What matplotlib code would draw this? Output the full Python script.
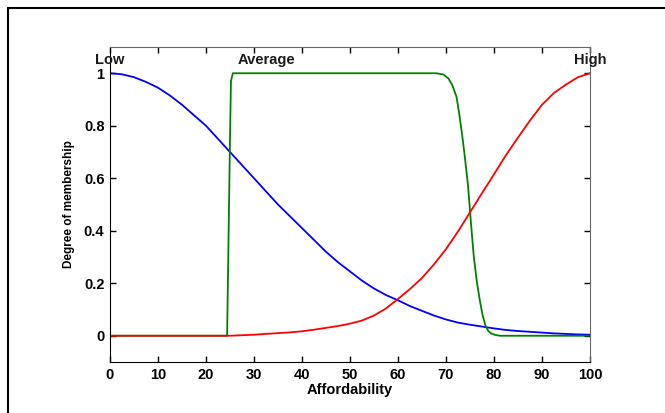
import matplotlib
matplotlib.use("Agg")
import matplotlib.pyplot as plt
from matplotlib.patches import Rectangle

plt.rcParams['font.family'] = ['Liberation Sans', 'DejaVu Sans']
plt.rcParams['font.weight'] = 'bold'

# membership curves
low_x = [0, 2.5, 5, 7.5, 10, 12.5, 15, 17.5, 20, 22.5, 25, 27.5, 30, 32.5, 35, 37.5, 40,
         42.5, 45, 47.5, 50, 52.5, 55, 57.5, 60, 62.5, 65, 67.5, 70, 72.5, 75, 77.5, 80,
         82.5, 85, 87.5, 90, 92.5, 95, 97.5, 100]
low_y = [1.0, 0.996, 0.985, 0.967, 0.945, 0.915, 0.88, 0.84, 0.80, 0.75, 0.70, 0.65, 0.60,
         0.55, 0.50, 0.455, 0.41, 0.365, 0.32, 0.28, 0.245, 0.21, 0.18, 0.155, 0.135, 0.113,
         0.095, 0.077, 0.062, 0.05, 0.042, 0.035, 0.028, 0.022, 0.018, 0.015, 0.012, 0.009,
         0.007, 0.005, 0.004]

avg_x = [0, 24.4, 24.6, 24.8, 25.0, 25.2, 25.6, 68, 69.5, 70.5, 71.3, 72.2, 72.8, 73.4, 74,
         74.6, 75.2, 75.8, 76.4, 77, 77.6, 78.2, 78.8, 79.5, 80.3, 81.3, 100]
avg_y = [0, 0, 0.25, 0.5, 0.75, 0.97, 1.0, 1.0, 0.995, 0.98, 0.955, 0.91, 0.84, 0.76, 0.67,
         0.57, 0.43, 0.3, 0.21, 0.14, 0.08, 0.04, 0.018, 0.008, 0.003, 0, 0]

high_x = [0, 25, 27.5, 30, 32.5, 35, 37.5, 40, 42.5, 45, 47.5, 50, 52.5, 55, 57.5, 60, 62.5,
          65, 67.5, 70, 72.5, 75, 77.5, 80, 82.5, 85, 87.5, 90, 92.5, 95, 97.5, 100]
high_y = [0, 0, 0.002, 0.004, 0.007, 0.01, 0.013, 0.017, 0.023, 0.03, 0.037, 0.046, 0.058,
          0.077, 0.104, 0.14, 0.178, 0.22, 0.272, 0.33, 0.397, 0.47, 0.543, 0.615, 0.688,
          0.755, 0.82, 0.88, 0.925, 0.957, 0.985, 1.0]

mf_names = ['Low', 'Average', 'High']
mf_label_x = [0, 32.5, 100]

xticks = list(range(0, 101, 10))
yticks = [0, 0.2, 0.4, 0.6, 0.8, 1]
ytick_labels = ['0', '0.2', '0.4', '0.6', '0.8', '1']

fig = plt.figure(figsize=(6.65, 4.13), dpi=100)
ax = fig.add_axes([0.1654, 0.1235, 0.7218, 0.7627])

ax.plot(low_x, low_y, color='#0000ff', lw=1.3)
ax.plot(avg_x, avg_y, color='#008000', lw=1.3)
ax.plot(high_x, high_y, color='#ff0000', lw=1.3)

for name, xpos in zip(mf_names, mf_label_x):
    ax.text(xpos, 1.05, name, ha='center', va='center', fontsize=10.5, fontweight='bold',
            color='#1a1a1a')

ax.set_xlim(0, 100)
ax.set_ylim(-0.1, 1.1)
ax.set_xticks(xticks)
ax.set_yticks(yticks)
ax.set_yticklabels(ytick_labels)
ax.tick_params(direction='in', length=4, width=1, top=True, right=True, labelsize=10.5,
               pad=4)
for side in ['top', 'right']:
    ax.spines[side].set_color('#666666')
for side in ['left', 'bottom']:
    ax.spines[side].set_color('black')

ax.set_xlabel('Affordability', fontsize=10.5, fontweight='bold', labelpad=1)
ax.set_ylabel('Degree of membership', fontsize=8.5, fontweight='bold', labelpad=6)

# outer frame of the original screenshot
fig.add_artist(Rectangle((8 / 665, -0.1), 1.2, 1 - 8 / 413 + 0.1,
                         transform=fig.transFigure, fill=False, lw=1.5, ec='black'))

fig.savefig('out.png', dpi=100)
